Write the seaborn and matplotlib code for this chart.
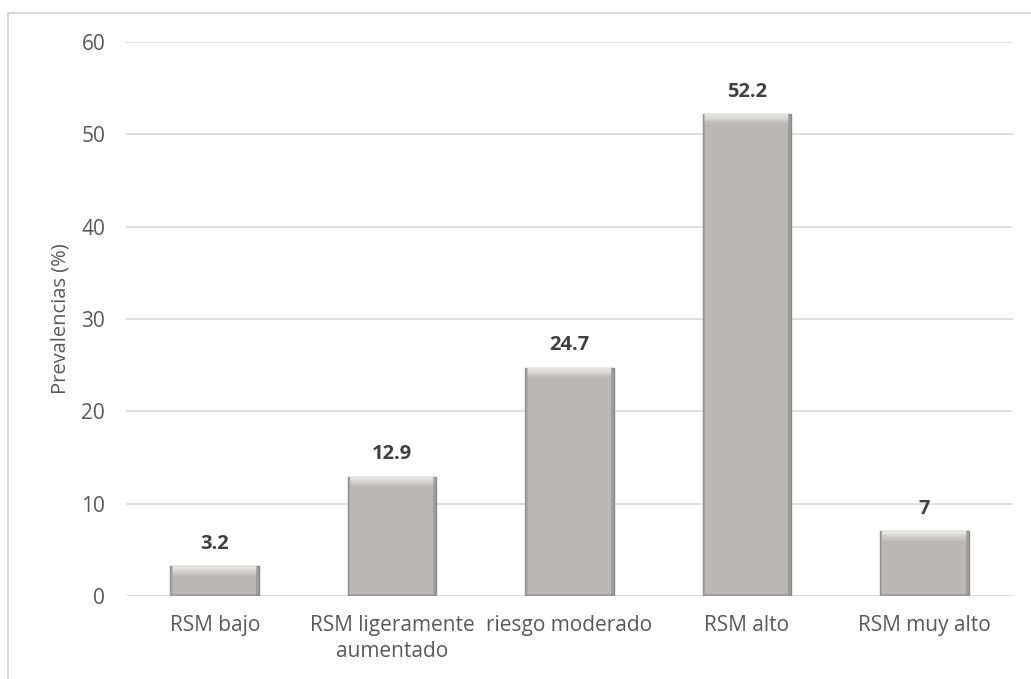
import matplotlib
matplotlib.use("Agg")
import matplotlib.pyplot as plt
import seaborn as sns
import pandas as pd
from matplotlib.patches import Rectangle

categories = ["RSM bajo", "RSM ligeramente\naumentado", "riesgo moderado", "RSM alto", "RSM muy alto"]
values = [3.2, 12.9, 24.7, 52.2, 7]
value_labels = ["3.2", "12.9", "24.7", "52.2", "7"]
yticks = [0, 10, 20, 30, 40, 50, 60]

sns.set_theme(style="white")
plt.rcParams['font.family'] = ['Open Sans', 'DejaVu Sans']

df = pd.DataFrame({"cat": categories, "val": values})

fig = plt.figure(figsize=(10.31, 6.79), dpi=100)
ax = fig.add_axes([126/1031, 1-596/679, 887/1031, 554/679])

sns.barplot(data=df, x="cat", y="val", ax=ax, color="#bcb8b8", width=0.5,
            edgecolor="#8e8a8a", linewidth=1.0, saturation=1)

# bevel effect (highlight at top, shadows at sides/bottom)
bars = list(ax.patches[:len(values)])
unit = 60 / 554.0  # data units per pixel
for p in bars:
    x0, y0 = p.get_x(), p.get_y()
    w, h = p.get_width(), p.get_height()
    z = p.get_zorder() + 0.1
    top = y0 + h
    n = 8
    for i in range(n):
        hh = unit * 1.2
        ax.add_patch(Rectangle((x0 + w*0.02, top - (i+1)*hh), w*0.96, hh,
                               facecolor="#f2f0f0", alpha=0.85*(1 - i/n),
                               edgecolor="none", zorder=z))
    sw = w * 0.035
    ax.add_patch(Rectangle((x0 + w - sw, y0), sw, h, facecolor="#8f8b8b",
                           alpha=0.6, edgecolor="none", zorder=z))
    ax.add_patch(Rectangle((x0, y0), sw*0.8, h, facecolor="#9e9a9a",
                           alpha=0.5, edgecolor="none", zorder=z))
    ax.add_patch(Rectangle((x0, y0), w, unit*2.5, facecolor="#8f8b8b",
                           alpha=0.5, edgecolor="none", zorder=z))

for p, lab in zip(bars, value_labels):
    ax.annotate(lab, (p.get_x() + p.get_width()/2, p.get_height()),
                xytext=(0, 9), textcoords="offset points", ha="center", va="bottom",
                fontsize=14.5, fontweight="bold", color="#404040")

ax.set_ylim(0, 60)
ax.set_xlim(-0.5, len(categories) - 0.5)
ax.set_yticks(yticks)
ax.yaxis.grid(True, color="#d9d9d9", linewidth=1.2)
ax.set_axisbelow(True)
for s in ax.spines.values():
    s.set_visible(False)
ax.tick_params(axis="both", length=0, labelsize=15, colors="#595959")
ax.tick_params(axis="y", pad=15)
ax.tick_params(axis="x", pad=14)
ax.set_xlabel("")
ax.set_ylabel("Prevalencias (%)", fontsize=14.5, color="#595959", labelpad=8)
for t in ax.get_xticklabels():
    t.set_linespacing(1.3)

fig.patches.append(Rectangle((8/1031, -0.1), 1.2, 1 - 13/679 + 0.1, transform=fig.transFigure,
                             fill=False, edgecolor="#d9d9d9", linewidth=1.5, figure=fig))

fig.savefig("out.png", dpi=100)
